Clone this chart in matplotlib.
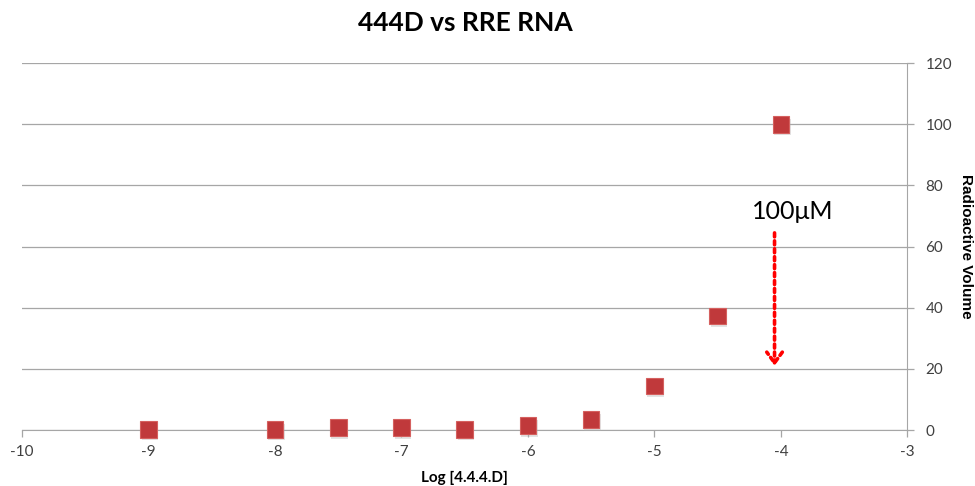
import matplotlib
matplotlib.use("Agg")
import matplotlib.pyplot as plt
import matplotlib.patheffects as pe

plt.rcParams['font.family'] = ['Lato', 'DejaVu Sans']
plt.rcParams['axes.unicode_minus'] = False

# Binding data: log concentration vs radioactive volume
log_conc = [-9, -8, -7.5, -7, -6.5, -6, -5.5, -5, -4.5, -4]
radio_volume = [0.3, 0.3, 0.8, 0.8, 0.3, 1.4, 3.5, 14.4, 37.3, 100]

x_ticks = [-10, -9, -8, -7, -6, -5, -4, -3]
y_ticks = [0, 20, 40, 60, 80, 100, 120]

fig = plt.figure(figsize=(9.75, 4.86), dpi=100)
ax = fig.add_axes([0.0226, 0.115, 0.908, 0.755])

ax.set_xlim(-10, -3)
ax.set_ylim(0, 120)
ax.set_xticks(x_ticks)
ax.set_yticks(y_ticks)

grid_c = '#a6a6a6'
ax.yaxis.grid(True, color=grid_c, lw=0.9)
ax.set_axisbelow(True)
for s in ['left', 'top']:
    ax.spines[s].set_visible(False)
ax.spines['right'].set_color(grid_c)
ax.spines['bottom'].set_color(grid_c)
ax.yaxis.tick_right()
ax.yaxis.set_label_position('right')
ax.tick_params(axis='both', colors=grid_c, labelcolor='#404040', labelsize=11, length=5, width=0.9)
ax.tick_params(axis='x', pad=6)
ax.tick_params(axis='y', pad=8)

ax.plot(log_conc, radio_volume, linestyle='none', marker='s', markersize=12,
        markerfacecolor='#c0393b', markeredgecolor='#d5605f', markeredgewidth=0.8,
        path_effects=[pe.SimplePatchShadow(offset=(1, -2), shadow_rgbFace='#b0b0b0', alpha=0.35),
                      pe.Normal()],
        zorder=3, clip_on=False)

# Marker for the 100 uM concentration
ax.annotate('', xy=(-4.05, 21), xytext=(-4.05, 64.5),
            arrowprops=dict(arrowstyle='->,head_length=0.55,head_width=0.4', color='#ff0000',
                            lw=2.6, linestyle=(0, (1.1, 1.1)), mutation_scale=14,
                            shrinkA=0, shrinkB=0))
ax.text(-3.91, 71.5, '100\u03bcM', fontsize=18, ha='center', va='center', color='#000000')

fig.suptitle('444D vs RRE RNA', fontsize=19, fontweight='bold', x=0.477, y=0.978)
ax.set_xlabel('Log [4.4.4.D]', fontsize=11, fontweight='bold')
ax.xaxis.set_label_coords(0.5, -0.11)
ax.set_ylabel('Radioactive Volume', fontsize=11, fontweight='bold', rotation=-90,
              fontfamily='Liberation Sans', va='center')
ax.yaxis.set_label_coords(1.066, 0.5)

fig.savefig('out.png', dpi=100)
